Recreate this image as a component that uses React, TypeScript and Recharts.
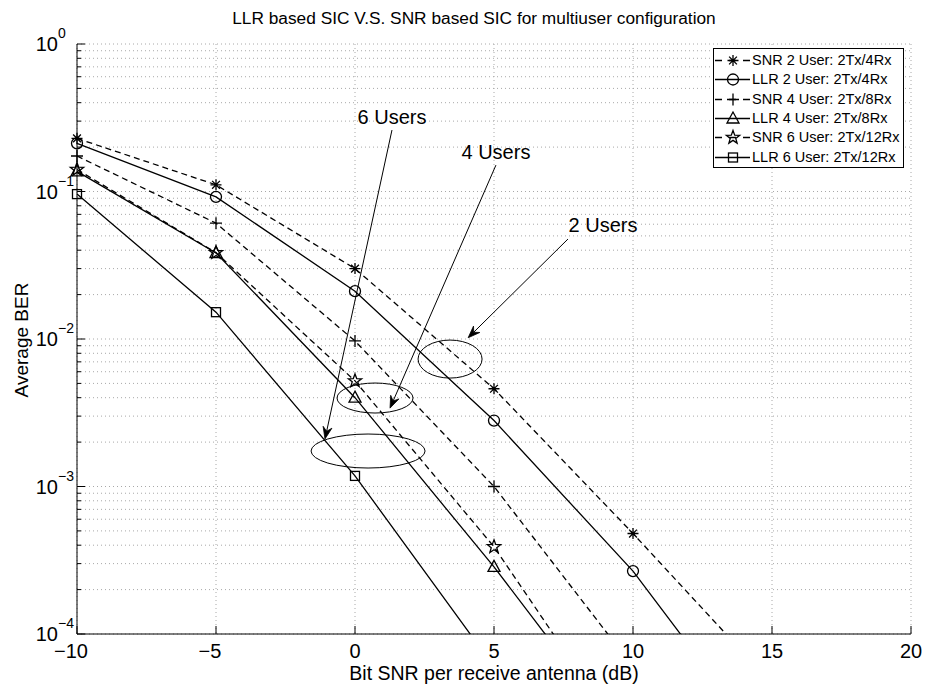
import React from "react";
import {
  ComposedChart,
  Line,
  Scatter,
  XAxis,
  YAxis,
  CartesianGrid,
  ReferenceDot,
  ReferenceLine,
} from "recharts";

const FONT = '"Liberation Sans", Arial, Helvetica, sans-serif';

// Bit SNR per receive antenna (dB)
const snrDb = [-10, -5, 0, 5, 10, 15];

// Average BER per curve (null = no point simulated)
const snr2User = [0.229, 0.111, 0.03, 0.0046, 0.00048, 0.000046];
const llr2User = [0.212, 0.092, 0.0211, 0.0028, 0.000267, 0.000015];
const snr4User = [0.174, 0.061, 0.0097, 0.001, 0.00006, null];
const llr4User = [0.137, 0.0383, 0.004, 0.000285, 0.0000165, null];
const snr6User = [0.141, 0.0385, 0.0052, 0.00039, 0.000016, null];
const llr6User = [0.096, 0.0152, 0.00118, 0.00006, null, null];

const seriesNames = [
  "SNR 2 User: 2Tx/4Rx",
  "LLR 2 User: 2Tx/4Rx",
  "SNR 4 User: 2Tx/8Rx",
  "LLR 4 User: 2Tx/8Rx",
  "SNR 6 User: 2Tx/12Rx",
  "LLR 6 User: 2Tx/12Rx",
];

const xTicks = [-10, -5, 0, 5, 10, 15, 20];
const decadeTicks = [1e-4, 1e-3, 1e-2, 1e-1, 1];
const decadeExponents = ["\u22124", "\u22123", "\u22122", "\u22121", "0"];
const minorSteps = [2, 3, 4, 5, 6, 7, 8, 9];

const annotationLabels = ["6 Users", "4 Users", "2 Users"];

type MarkerKind = "asterisk" | "circle" | "plus" | "triangle" | "star" | "square";

const series: { key: string; name: string; values: (number | null)[]; dashed: boolean; marker: MarkerKind }[] = [
  { key: "snr2", name: seriesNames[0], values: snr2User, dashed: true, marker: "asterisk" },
  { key: "llr2", name: seriesNames[1], values: llr2User, dashed: false, marker: "circle" },
  { key: "snr4", name: seriesNames[2], values: snr4User, dashed: true, marker: "plus" },
  { key: "llr4", name: seriesNames[3], values: llr4User, dashed: false, marker: "triangle" },
  { key: "snr6", name: seriesNames[4], values: snr6User, dashed: true, marker: "star" },
  { key: "llr6", name: seriesNames[5], values: llr6User, dashed: false, marker: "square" },
];

const rows = snrDb.map((x, i) => {
  const r: any = { x };
  series.forEach((s) => (r[s.key] = s.values[i]));
  return r;
});

// markers only where the point is inside the axes (lines themselves are clipped)
const markerPoints = (values: (number | null)[]) =>
  snrDb
    .map((x, i) => ({ x, y: values[i] }))
    .filter((d) => d.y != null && (d.y as number) >= 1e-4);

const yTicks = decadeTicks.flatMap((d, i) =>
  i === decadeTicks.length - 1 ? [d] : [d, ...minorSteps.map((m) => m * d)]
);

// annotation placement (data coords) and ellipse radii in px
const labelSpots = [
  { x: 1.33, y: 0.32 },
  { x: 5.07, y: 0.185 },
  { x: 8.92, y: 0.0593 },
];
const ellipses = [
  { x: 0.47, y: 0.00174, rx: 57, ry: 17 },
  { x: 0.72, y: 0.00398, rx: 38, ry: 15 },
  { x: 3.42, y: 0.00731, rx: 32, ry: 19 },
];
const arrows = [
  { from: { x: 1.33, y: 0.261 }, to: { x: -1.08, y: 0.0021 } },
  { from: { x: 5.07, y: 0.151 }, to: { x: 1.26, y: 0.0034 } },
  { from: { x: 7.66, y: 0.0476 }, to: { x: 4.07, y: 0.0102 } },
];

const Marker = ({ kind, cx, cy }: { kind: MarkerKind; cx: number; cy: number }) => {
  const p = { fill: "none", stroke: "#000", strokeWidth: 1.3 };
  switch (kind) {
    case "circle":
      return <circle cx={cx} cy={cy} r={5.5} {...p} />;
    case "square":
      return <rect x={cx - 4.5} y={cy - 4.5} width={9} height={9} {...p} />;
    case "triangle":
      return <polygon points={`${cx},${cy - 6.5} ${cx - 6},${cy + 4.5} ${cx + 6},${cy + 4.5}`} {...p} />;
    case "plus":
      return <path d={`M${cx - 6},${cy}H${cx + 6}M${cx},${cy - 6}V${cy + 6}`} {...p} />;
    case "asterisk": {
      const a = 5.5;
      const d = 3.9;
      return (
        <path
          d={`M${cx - a},${cy}H${cx + a}M${cx},${cy - a}V${cy + a}M${cx - d},${cy - d}L${cx + d},${cy + d}M${cx - d},${cy + d}L${cx + d},${cy - d}`}
          {...p}
        />
      );
    }
    case "star": {
      const pts: string[] = [];
      for (let k = 0; k < 10; k++) {
        const r = k % 2 === 0 ? 7 : 2.9;
        const ang = (-90 + k * 36) * (Math.PI / 180);
        pts.push(`${cx + r * Math.cos(ang)},${cy + r * Math.sin(ang)}`);
      }
      return <polygon points={pts.join(" ")} {...p} />;
    }
  }
  return null;
};

const LeftTick = (props: any) => {
  const { x, y, payload } = props;
  const di = decadeTicks.indexOf(payload.value);
  const major = di >= 0;
  return (
    <g>
      <line x1={x} y1={y} x2={x + (major ? 8 : 4)} y2={y} stroke="#000" />
      {major && (
        <>
          <text x={x - 19} y={y + 7} textAnchor="end" fontSize={20} fontFamily={FONT} fill="#000">
            10
          </text>
          <text x={x - 19} y={y - 6} fontSize={14} fontFamily={FONT} fill="#000">
            {decadeExponents[di]}
          </text>
        </>
      )}
    </g>
  );
};

const RightTick = (props: any) => {
  const { x, y, payload } = props;
  const major = decadeTicks.indexOf(payload.value) >= 0;
  return <line x1={x} y1={y} x2={x - (major ? 8 : 4)} y2={y} stroke="#000" />;
};

const BottomTick = (props: any) => {
  const { x, y, payload } = props;
  const v = payload.value as number;
  return (
    <g>
      <line x1={x} y1={y} x2={x} y2={y - 8} stroke="#000" />
      <text x={x + (v < 0 ? -6 : 0)} y={y + 24} textAnchor="middle" fontSize={20} fontFamily={FONT} fill="#000">
        {v < 0 ? `\u2212${Math.abs(v)}` : v}
      </text>
    </g>
  );
};

const TopTick = (props: any) => {
  const { x, y } = props;
  return <line x1={x} y1={y} x2={x} y2={y + 8} stroke="#000" />;
};

const Arrow = (p: any) => {
  const { x1, y1, x2, y2 } = p;
  const ang = Math.atan2(y2 - y1, x2 - x1);
  const c = Math.cos(ang);
  const s = Math.sin(ang);
  const L = 12;
  const W = 4.5;
  const bx = x2 - L * c;
  const by = y2 - L * s;
  const nx = x2 - L * 0.65 * c;
  const ny = y2 - L * 0.65 * s;
  return (
    <g>
      <line x1={x1} y1={y1} x2={nx} y2={ny} stroke="#000" strokeWidth={1} />
      <polygon
        points={`${x2},${y2} ${bx - s * W},${by + c * W} ${nx},${ny} ${bx + s * W},${by - c * W}`}
        fill="#000"
        stroke="#000"
        strokeWidth={0.8}
      />
    </g>
  );
};

export default function App() {
  return (
    <div style={{ position: "absolute", left: 0, top: 0, width: 926, height: 688, background: "#fff", fontFamily: FONT }}>
      <ComposedChart width={926} height={688} data={rows} margin={{ top: 44, right: 15, bottom: 0, left: 0 }}>
        <CartesianGrid stroke="#a8a8a8" strokeDasharray="1 3" />
        <XAxis
          dataKey="x"
          type="number"
          domain={[-10, 20]}
          ticks={xTicks}
          interval={0}
          height={54}
          tick={BottomTick}
          tickSize={0}
          tickMargin={0}
          tickLine={false}
          axisLine={{ stroke: "#000" }}
        />
        <XAxis
          xAxisId="top"
          orientation="top"
          dataKey="x"
          type="number"
          domain={[-10, 20]}
          ticks={xTicks}
          interval={0}
          height={0}
          tick={TopTick}
          tickSize={0}
          tickMargin={0}
          tickLine={false}
          axisLine={{ stroke: "#000" }}
        />
        <YAxis
          type="number"
          scale="log"
          domain={[1e-4, 1]}
          ticks={yTicks}
          interval={0}
          allowDataOverflow
          width={77}
          tick={LeftTick}
          tickSize={0}
          tickMargin={0}
          tickLine={false}
          axisLine={{ stroke: "#000" }}
        />
        <YAxis
          yAxisId="r"
          orientation="right"
          type="number"
          scale="log"
          domain={[1e-4, 1]}
          ticks={yTicks}
          interval={0}
          width={0}
          tick={RightTick}
          tickSize={0}
          tickMargin={0}
          tickLine={false}
          axisLine={{ stroke: "#000" }}
        />

        {series.map((s) => (
          <Line
            key={s.key}
            dataKey={s.key}
            stroke="#000"
            strokeWidth={1.3}
            strokeDasharray={s.dashed ? "6 4" : undefined}
            dot={false}
            activeDot={false}
            isAnimationActive={false}
          />
        ))}
        {series.map((s) => (
          <Scatter
            key={"m-" + s.key}
            yAxisId="r"
            data={markerPoints(s.values)}
            dataKey="y"
            shape={(p: any) => <Marker kind={s.marker} cx={p.cx} cy={p.cy} />}
            isAnimationActive={false}
          />
        ))}

        {ellipses.map((e, i) => (
          <ReferenceDot
            key={"e" + i}
            x={e.x}
            y={e.y}
            shape={(p: any) => <ellipse cx={p.cx} cy={p.cy} rx={e.rx} ry={e.ry} fill="none" stroke="#000" strokeWidth={1} />}
          />
        ))}
        {arrows.map((a, i) => (
          <ReferenceLine key={"a" + i} segment={[a.from, a.to]} shape={Arrow} />
        ))}
        {labelSpots.map((l, i) => (
          <ReferenceDot
            key={"t" + i}
            x={l.x}
            y={l.y}
            shape={(p: any) => (
              <text x={p.cx} y={p.cy + 7} textAnchor="middle" fontSize={20} fontFamily={FONT} fill="#000">
                {annotationLabels[i]}
              </text>
            )}
          />
        ))}
      </ComposedChart>

      <div style={{ position: "absolute", left: 57, top: 8, width: 834, textAlign: "center", fontSize: 17.3, lineHeight: "20px" }}>
        LLR based SIC V.S. SNR based SIC for multiuser configuration
      </div>
      <div style={{ position: "absolute", left: 77, top: 662, width: 834, textAlign: "center", fontSize: 19.5, lineHeight: "22px" }}>
        Bit SNR per receive antenna (dB)
      </div>
      <div
        style={{
          position: "absolute",
          left: 22 - 100,
          top: 340 - 11,
          width: 200,
          height: 22,
          lineHeight: "22px",
          textAlign: "center",
          fontSize: 19,
          transform: "rotate(-90deg)",
        }}
      >
        Average BER
      </div>

      <div
        style={{
          position: "absolute",
          left: 713,
          top: 48,
          width: 191,
          height: 120,
          border: "1px solid #000",
          background: "#fff",
          boxSizing: "border-box",
          paddingTop: 2,
        }}
      >
        {series.map((s) => (
          <div key={s.key} style={{ display: "flex", alignItems: "center", height: 19.3 }}>
            <svg width={38} height={19} style={{ flex: "none" }}>
              <line x1={1} y1={9.5} x2={36} y2={9.5} stroke="#000" strokeWidth={1.3} strokeDasharray={s.dashed ? "7 7" : undefined} />
              <Marker kind={s.marker} cx={19} cy={9.5} />
            </svg>
            <span style={{ fontSize: 14.5, lineHeight: "19px", whiteSpace: "nowrap" }}>{s.name}</span>
          </div>
        ))}
      </div>
    </div>
  );
}
